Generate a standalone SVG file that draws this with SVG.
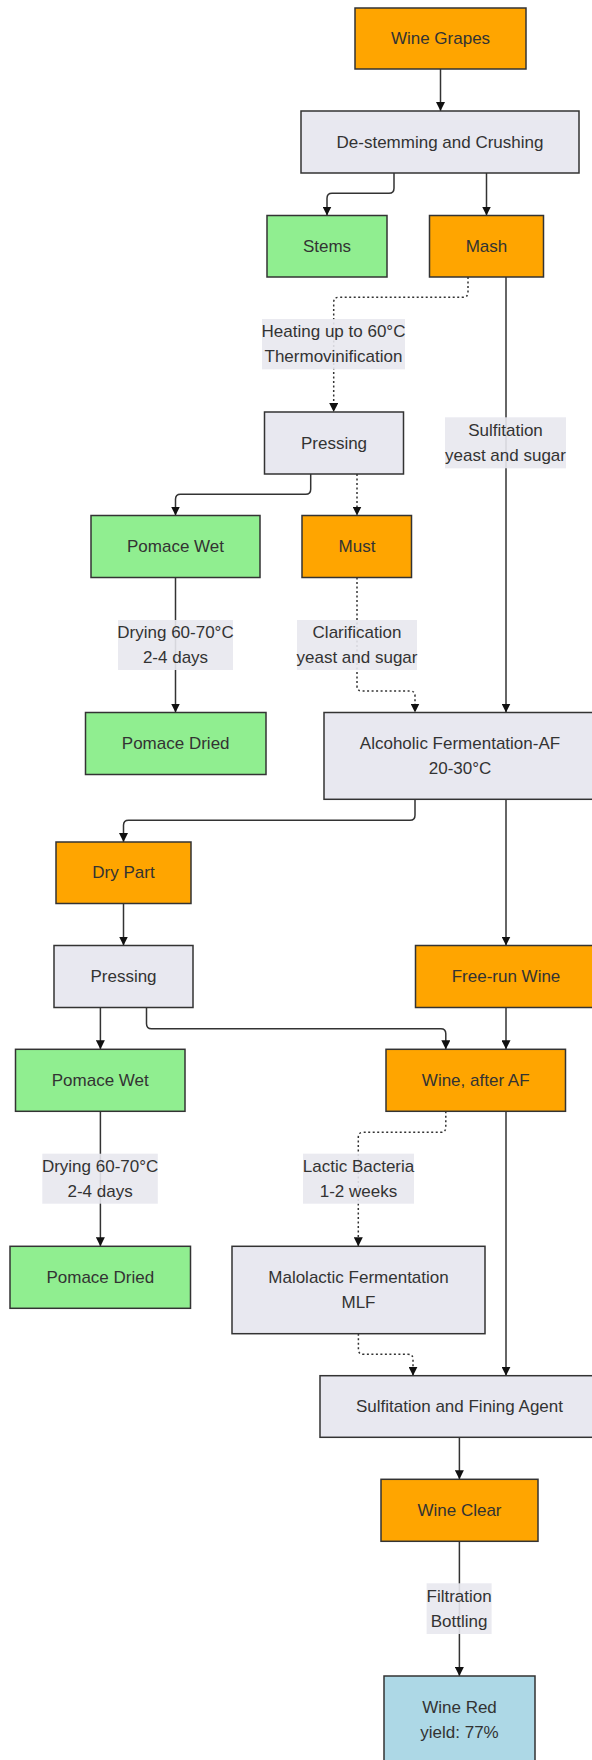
<svg xmlns="http://www.w3.org/2000/svg" width="592" height="1760" viewBox="0 0 592 1760">
  <style>
    .node rect { stroke: #333333; stroke-width: 1.5; }
    .proc rect { fill: #e8e8f0; }
    .prod rect { fill: #ffa500; }
    .waste rect { fill: #90ee90; }
    .final rect { fill: #add8e6; }
    text { font-family: "Liberation Sans", Arial, sans-serif; font-size: 17px; fill: #333333; text-anchor: middle; dominant-baseline: central; }
    .edge { fill: none; stroke: #333333; stroke-width: 1.5; marker-end: url(#arrow); }
    .dotted { stroke-dasharray: 2 2.5; }
    .elabel rect { fill: #e8e8ee; opacity: 0.9; }
  </style>
  <defs>
    <marker id="arrow" viewBox="0 0 10 10" refX="10" refY="5" markerUnits="userSpaceOnUse" markerWidth="9" markerHeight="9" orient="auto">
      <path d="M0,0 L10,5 L0,10 z" fill="#111111"/>
    </marker>
  </defs>

  <rect width="592" height="1760" fill="#ffffff"/>

  <!-- connectors -->
  <g id="connectors">
    <path class="edge" d="M440.5,69 V111"/>
    <path class="edge" d="M394,173 V188.3 Q394,193.3 389,193.3 H332 Q327,193.3 327,198.3 V215.5"/>
    <path class="edge" d="M486.5,173 V215.5"/>
    <path class="edge dotted" d="M468,277 V292.3 Q468,297.3 463,297.3 H338.7 Q333.7,297.3 333.7,302.3 V412"/>
    <path class="edge" d="M506,277 V712.5"/>
    <path class="edge" d="M310.7,474 V489.3 Q310.7,494.3 305.7,494.3 H180.5 Q175.5,494.3 175.5,499.3 V515.5"/>
    <path class="edge dotted" d="M357,474 V515.5"/>
    <path class="edge" d="M175.5,577.5 V712.5"/>
    <path class="edge dotted" d="M357,577.5 V686 Q357,691 362,691 H410 Q415,691 415,696 V712.5"/>
    <path class="edge" d="M415,799.3 V815.3 Q415,820.3 410,820.3 H128.5 Q123.5,820.3 123.5,825.3 V842"/>
    <path class="edge" d="M506,799.3 V945.5"/>
    <path class="edge" d="M123.5,903.5 V945.5"/>
    <path class="edge" d="M100.4,1007.5 V1049.3"/>
    <path class="edge" d="M146.5,1007.5 V1023.7 Q146.5,1028.7 151.5,1028.7 H440.8 Q445.8,1028.7 445.8,1033.7 V1049.3"/>
    <path class="edge" d="M506,1007.5 V1049.3"/>
    <path class="edge" d="M100.4,1111.3 V1246.3"/>
    <path class="edge dotted" d="M445.8,1111.3 V1127.3 Q445.8,1132.3 440.8,1132.3 H363.3 Q358.3,1132.3 358.3,1137.3 V1246.3"/>
    <path class="edge" d="M506,1111.3 V1375.7"/>
    <path class="edge dotted" d="M358.4,1333.7 V1349.3 Q358.4,1354.3 363.4,1354.3 H408 Q413,1354.3 413,1359.3 V1375.7"/>
    <path class="edge" d="M459.4,1437.3 V1479.3"/>
    <path class="edge" d="M459.4,1541.3 V1676"/>

    <!-- edge labels -->
    <g class="elabel">
      <rect x="262" y="319" width="143" height="50.3"/>
      <text x="333.5" y="331.5">Heating up to 60°C</text>
      <text x="333.5" y="356.8">Thermovinification</text>
    </g>
    <g class="elabel">
      <rect x="445" y="417.3" width="121" height="51"/>
      <text x="505.5" y="430.3">Sulfitation</text>
      <text x="505.5" y="455.6">yeast and sugar</text>
    </g>
    <g class="elabel">
      <rect x="118" y="620" width="115" height="50"/>
      <text x="175.5" y="632.3">Drying 60-70°C</text>
      <text x="175.5" y="657.6">2-4 days</text>
    </g>
    <g class="elabel">
      <rect x="297" y="620" width="120" height="50"/>
      <text x="357" y="632.3">Clarification</text>
      <text x="357" y="657.6">yeast and sugar</text>
    </g>
    <g class="elabel">
      <rect x="42.3" y="1153.7" width="115.5" height="50"/>
      <text x="100.1" y="1166">Drying 60-70°C</text>
      <text x="100.1" y="1191.3">2-4 days</text>
    </g>
    <g class="elabel">
      <rect x="303" y="1153.7" width="111" height="50"/>
      <text x="358.5" y="1166">Lactic Bacteria</text>
      <text x="358.5" y="1191.3">1-2 weeks</text>
    </g>
    <g class="elabel">
      <rect x="426.6" y="1583.3" width="65" height="50.7"/>
      <text x="459.1" y="1596">Filtration</text>
      <text x="459.1" y="1621.3">Bottling</text>
    </g>
  </g>

  <!-- nodes -->
  <g id="wine-grapes" class="node prod">
    <rect x="355" y="8" width="171" height="61"/>
    <text x="440.5" y="38.5">Wine Grapes</text>
  </g>
  <g id="destemming" class="node proc">
    <rect x="301" y="111" width="278" height="62"/>
    <text x="440" y="142">De-stemming and Crushing</text>
  </g>
  <g id="stems" class="node waste">
    <rect x="267" y="215.5" width="120" height="61.5"/>
    <text x="327" y="246.2">Stems</text>
  </g>
  <g id="mash" class="node prod">
    <rect x="429.5" y="215.5" width="114" height="61.5"/>
    <text x="486.5" y="246.2">Mash</text>
  </g>
  <g id="pressing-1" class="node proc">
    <rect x="264.5" y="412" width="139" height="62"/>
    <text x="334" y="443">Pressing</text>
  </g>
  <g id="pomace-wet-1" class="node waste">
    <rect x="91" y="515.5" width="169" height="62"/>
    <text x="175.5" y="546.5">Pomace Wet</text>
  </g>
  <g id="must" class="node prod">
    <rect x="302" y="515.5" width="109.5" height="62"/>
    <text x="357" y="546.5">Must</text>
  </g>
  <g id="pomace-dried-1" class="node waste">
    <rect x="85.5" y="712.5" width="180.5" height="62"/>
    <text x="175.7" y="743.5">Pomace Dried</text>
  </g>
  <g id="alcoholic-fermentation" class="node proc">
    <rect x="324" y="712.5" width="272" height="86.8"/>
    <text x="460" y="743.5">Alcoholic Fermentation-AF</text>
    <text x="460" y="768.8">20-30°C</text>
  </g>
  <g id="dry-part" class="node prod">
    <rect x="56" y="842" width="135" height="61.5"/>
    <text x="123.5" y="872.7">Dry Part</text>
  </g>
  <g id="pressing-2" class="node proc">
    <rect x="54" y="945.5" width="139" height="62"/>
    <text x="123.5" y="976.5">Pressing</text>
  </g>
  <g id="free-run-wine" class="node prod">
    <rect x="415.5" y="945.5" width="181" height="62"/>
    <text x="506" y="976.5">Free-run Wine</text>
  </g>
  <g id="pomace-wet-2" class="node waste">
    <rect x="15.5" y="1049.3" width="169.5" height="62"/>
    <text x="100.3" y="1080.3">Pomace Wet</text>
  </g>
  <g id="wine-after-af" class="node prod">
    <rect x="386" y="1049.3" width="179.5" height="62"/>
    <text x="475.7" y="1080.3">Wine, after AF</text>
  </g>
  <g id="pomace-dried-2" class="node waste">
    <rect x="10" y="1246.3" width="180.5" height="62"/>
    <text x="100.3" y="1277.3">Pomace Dried</text>
  </g>
  <g id="malolactic-fermentation" class="node proc">
    <rect x="232" y="1246.3" width="253" height="87.4"/>
    <text x="358.5" y="1277.3">Malolactic Fermentation</text>
    <text x="358.5" y="1302.6">MLF</text>
  </g>
  <g id="sulfitation-fining" class="node proc">
    <rect x="320" y="1375.7" width="279" height="61.6"/>
    <text x="459.5" y="1406.5">Sulfitation and Fining Agent</text>
  </g>
  <g id="wine-clear" class="node prod">
    <rect x="381" y="1479.3" width="157" height="62"/>
    <text x="459.5" y="1510.3">Wine Clear</text>
  </g>
  <g id="wine-red" class="node final">
    <rect x="384" y="1676" width="151" height="87"/>
    <text x="459.5" y="1707.3">Wine Red</text>
    <text x="459.5" y="1732.6">yield: 77%</text>
  </g>
</svg>
